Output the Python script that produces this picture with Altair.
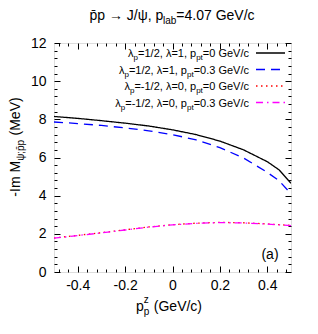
import altair as alt
import pandas as pd

# ---------------- data ----------------
pz = [-0.5, -0.4, -0.3, -0.2, -0.1, 0.0, 0.1, 0.2, 0.3, 0.4, 0.45, 0.5]
s_black = [8.15, 8.05, 7.93, 7.80, 7.65, 7.45, 7.20, 6.86, 6.40, 5.78, 5.35, 4.65]
s_blue = [7.86, 7.78, 7.68, 7.55, 7.40, 7.20, 6.92, 6.52, 5.97, 5.22, 4.78, 4.10]
s_red = [1.78, 1.92, 2.06, 2.21, 2.36, 2.48, 2.56, 2.60, 2.58, 2.52, 2.48, 2.44]
s_mag = [1.77, 1.91, 2.05, 2.20, 2.35, 2.47, 2.55, 2.59, 2.57, 2.51, 2.47, 2.43]

legend_labels = [
    ["λ", "p", "=1/2, λ=1, p", "pt", "=0 GeV/c"],
    ["λ", "p", "=1/2, λ=1, p", "pt", "=0.3 GeV/c"],
    ["λ", "p", "=-1/2, λ=0, p", "pt", "=0 GeV/c"],
    ["λ", "p", "=-1/2, λ=0, p", "pt", "=0.3 GeV/c"],
]
x_major = [-0.4, -0.2, 0.0, 0.2, 0.4]
x_minor = [-0.48, -0.44, -0.36, -0.32, -0.28, -0.24, -0.16, -0.12, -0.08, -0.04,
           0.04, 0.08, 0.12, 0.16, 0.24, 0.28, 0.32, 0.36, 0.44, 0.48]
y_major = [0, 2, 4, 6, 8, 10, 12]
y_minor = [0.4, 0.8, 1.2, 1.6, 2.4, 2.8, 3.2, 3.6, 4.4, 4.8, 5.2, 5.6, 6.4, 6.8, 7.2, 7.6,
           8.4, 8.8, 9.2, 9.6, 10.4, 10.8, 11.2, 11.6]

series_names = ["a", "b", "c", "d"]
series_vals = [s_black, s_blue, s_red, s_mag]
colors = ["#000000", "#0000ff", "#ff0000", "#ff00ff"]
dashes = [[1, 0], [9, 6], [1.5, 3.5], [7, 4, 1.5, 4]]

rows = []
for n, vals in zip(series_names, series_vals):
    for x, v in zip(pz, vals):
        rows.append({"s": n, "pz": x, "v": v})
df = pd.DataFrame(rows)

FONT = "Liberation Sans"
W = {" ": 278, "(": 333, ")": 333, ",": 278, "-": 333, ".": 278, "/": 278, ";": 278,
     "=": 584, "G": 778, "I": 278, "J": 500, "M": 833, "V": 667, "a": 556, "b": 556,
     "c": 500, "e": 556, "l": 222, "m": 833, "p": 556, "t": 278, "z": 500,
     "λ": 500, "ψ": 700, "→": 1000, "\u0304": 0}


def tw(s, size):
    return sum(W.get(c, 556) for c in s) / 1000.0 * size


xs = alt.Scale(domain=[-0.5, 0.5], nice=False, zero=False)
ys = alt.Scale(domain=[0, 12], nice=False, zero=False)

PW, PH = 237, 229

# --------------- curves ---------------
layers = []
main_x = alt.Axis(orient="bottom", values=x_major, ticks=False, domain=False, grid=False,
                  title=None, labelPadding=6, labelFontSize=14, labelFont=FONT,
                  labelColor="black", labelOverlap=False, labelFlush=False,
                  labelExpr="datum.value == 0 ? '0' : (datum.value < 0 ? '-' : '') + format(abs(datum.value), '.1f')")
main_y = alt.Axis(orient="left", values=y_major, ticks=False, domain=False, grid=False,
                  title=None, labelPadding=8, labelFontSize=14, labelFont=FONT,
                  labelColor="black", labelOverlap=False, labelFlush=False, format="d")

for i, n in enumerate(series_names):
    layers.append(
        alt.Chart(df[df.s == n]).mark_line(color=colors[i], strokeDash=dashes[i],
                                           strokeWidth=1.3, clip=True)
        .encode(x=alt.X("pz:Q", scale=xs, axis=main_x if i == 0 else None),
                y=alt.Y("v:Q", scale=ys, axis=main_y if i == 0 else None))
    )


def tick_axis(orient, vals, size):
    return alt.Axis(orient=orient, values=vals, labels=False, domain=False, grid=False,
                    title=None, ticks=True, tickSize=size, offset=-size,
                    tickColor="black", tickWidth=1)


for xo, yo in [("bottom", "left"), ("top", "right")]:
    for vals_x, vals_y, sz in [(x_major, y_major, 6), (x_minor, y_minor, 3)]:
        layers.append(
            alt.Chart(df).mark_point(opacity=0)
            .encode(x=alt.X("pz:Q", scale=xs, axis=tick_axis(xo, vals_x, sz)),
                    y=alt.Y("v:Q", scale=ys, axis=tick_axis(yo, vals_y, sz)))
        )

# --------------- text pieces ---------------
pieces = []


def hrun(parts, x0, y0):
    x = x0
    for text, size, dy in parts:
        pieces.append({"t": text, "x": x, "y": y0 + dy, "size": size, "angle": 0})
        x += tw(text, size)


def hwidth(parts):
    return sum(tw(t, s) for t, s, _ in parts)


# title
title_parts = [("p\u0304p \u2192 J/\u03c8, p", 14, 0), ("lab", 10, 4), ("=4.07 GeV/c", 14, 0)]
hrun(title_parts, 118 - hwidth(title_parts) / 2, -23)

# x title: p_p^z (GeV/c)
GAP = 4.5
xt_w = tw("p", 14) + tw("p", 10) + GAP + tw("(GeV/c)", 14)
x0 = 115 - xt_w / 2
pieces.append({"t": "p", "x": x0, "y": 268, "size": 14, "angle": 0})
pieces.append({"t": "p", "x": x0 + tw("p", 14), "y": 272, "size": 10, "angle": 0})
pieces.append({"t": "z", "x": x0 + tw("p", 14), "y": 260, "size": 10, "angle": 0})
pieces.append({"t": "(GeV/c)", "x": x0 + tw("p", 14) + tw("p", 10) + GAP, "y": 268,
               "size": 14, "angle": 0})

# y title rotated: -Im M_{psi;pbar p} (MeV)
yparts = [("-Im M", 14, 0, 0), ("\u03c8;p\u0304p", 10, 4, 0), ("(MeV)", 14, 0, GAP)]
ytot = sum(tw(t, s) + g for t, s, _, g in yparts)
yy = 104 + ytot / 2
for text, size, dx, gap in yparts:
    yy -= gap
    pieces.append({"t": text, "x": -34 + dx, "y": yy, "size": size, "angle": 270})
    yy -= tw(text, size)

# (a)
pieces.append({"t": "(a)", "x": 216 - tw("(a)", 14) / 2, "y": 216, "size": 14, "angle": 0})

# legend text
row_c = [10, 26.5, 43, 59.5]
for r, lab in enumerate(legend_labels):
    parts = [(lab[0], 11, 0), (lab[1], 8, 3), (lab[2], 11, 0), (lab[3], 8, 3), (lab[4], 11, 0)]
    hrun(parts, 195 - hwidth(parts), row_c[r] + 4)

tdf = pd.DataFrame(pieces)
layers.append(
    alt.Chart(tdf).mark_text(align="left", baseline="alphabetic", font=FONT, color="black")
    .encode(x=alt.X("x:Q", scale=None), y=alt.Y("y:Q", scale=None), text="t:N",
            size=alt.Size("size:Q", scale=None), angle=alt.Angle("angle:Q", scale=None))
)

# legend sample lines
for r in range(4):
    layers.append(
        alt.Chart(pd.DataFrame({"k": [0]})).mark_rule(color=colors[r], strokeDash=dashes[r],
                                                      strokeWidth=1.3)
        .encode(x=alt.value(202), x2=alt.value(231), y=alt.value(row_c[r]))
    )

chart = (
    alt.layer(*layers)
    .resolve_axis(x="independent", y="independent")
    .properties(width=PW, height=PH,
                autosize=alt.AutoSizeParams(type="none"),
                padding={"left": 46, "top": 35, "right": 19, "bottom": 54})
    .configure_view(stroke="black", strokeWidth=1)
    .configure(background="white")
)

chart.save("out.html", embed_options={"renderer": "svg", "actions": False})
